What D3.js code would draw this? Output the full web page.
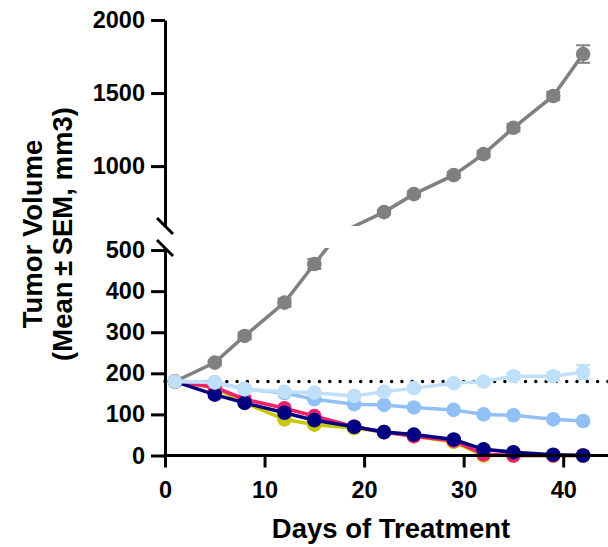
<!DOCTYPE html>
<html>
<head>
<meta charset="utf-8">
<script src="https://cdn.jsdelivr.net/npm/d3@7"></script>
<style>
    body { margin: 0; background: #fff; }
    text { font-family: 'Liberation Sans', Arial, sans-serif; font-weight: bold; fill: #000; }
</style>
</head>
<body>
<div id="chart"></div>
<script>
const days = [1, 5, 8, 12, 15, 19, 22, 25, 29, 32, 35, 39, 42];

const vehicle = [180, 226, 291, 372, 466, 588, 685, 808, 938, 1082, 1262, 1480, 1767];
const vehicleSem = [0, 6, 8, 10, 12, 15, 15, 18, 20, 22, 25, 28, 60];
const yellowGroup = [180, 165, 128, 88, 75, 67, 57, 47, 33, 0, 0, 0, 0];
const pinkGroup = [180, 166, 137, 115, 96, 70, 57, 47, 36, 3, 0, 0, 0];
const navyGroup = [180, 148, 128, 104, 86, 70, 57, 51, 39, 15, 8, 2, 0];
const midBlueGroup = [180, 178, 162, 152, 137, 125, 123, 117, 111, 100, 98, 88, 84];
const lightBlueGroup = [180, 178, 161, 155, 153, 145, 155, 164, 176, 180, 193, 193, 203];
const lightBlueSem = [0, 3, 4, 4, 5, 5, 6, 6, 7, 8, 9, 10, 17];

const baseline = 180;
const xTicks = [0, 10, 20, 30, 40];
const yTicksLow = [0, 100, 200, 300, 400, 500];
const yTicksHigh = [1000, 1500, 2000];

const series = [
    { name: 'vehicle', values: vehicle, sem: vehicleSem, color: '#808080' },
    { name: 'yellow', values: yellowGroup, color: '#c8c800' },
    { name: 'pink', values: pinkGroup, color: '#f0206e' },
    { name: 'navy', values: navyGroup, color: '#000080' },
    { name: 'midblue', values: midBlueGroup, color: '#90c0f5' },
    { name: 'lightblue', values: lightBlueGroup, sem: lightBlueSem, color: '#c0e0fa' }
];

const width = 608;
const height = 547;

const svg = d3.select('#chart')
    .append('svg')
    .attr('width', width)
    .attr('height', height);

const x = d3.scaleLinear().domain([0, 44.5]).range([165, 608]);
const yLow = d3.scaleLinear().domain([0, 505]).range([455.5, 248]);
const yHigh = d3.scaleLinear().domain([590, 2000]).range([226, 20]);

const defs = svg.append('defs');
defs.append('clipPath').attr('id', 'clip-low')
    .append('rect').attr('x', 0).attr('y', yLow(505)).attr('width', width).attr('height', height);
defs.append('clipPath').attr('id', 'clip-high')
    .append('rect').attr('x', 0).attr('y', 0).attr('width', width).attr('height', yHigh(590));

// dotted reference line at starting volume
svg.append('line')
    .attr('x1', x(0))
    .attr('x2', width)
    .attr('y1', yLow(baseline))
    .attr('y2', yLow(baseline))
    .attr('stroke', '#000')
    .attr('stroke-width', 3.5)
    .attr('stroke-linecap', 'round')
    .attr('stroke-dasharray', '0 10.3');

// draws every series on one segment of the broken axis
function drawPanel(y, clipId) {
    const [lo, hi] = y.domain();
    const g = svg.append('g').attr('clip-path', 'url(#' + clipId + ')');
    const line = d3.line()
        .x((d, i) => x(days[i]))
        .y(d => y(d));

    series.forEach(s => {
        const sg = g.append('g').classed(s.name, true);
        const pts = s.values
            .map((v, i) => ({ day: days[i], v: v, e: s.sem ? s.sem[i] : 0 }))
            .filter(d => d.v >= lo && d.v <= hi);

        if (s.sem) {
            const bars = sg.selectAll('.err')
                .data(pts)
                .enter()
                .append('g')
                .classed('err', true);
            bars.append('line')
                .attr('x1', d => x(d.day)).attr('x2', d => x(d.day))
                .attr('y1', d => y(d.v - d.e)).attr('y2', d => y(d.v + d.e))
                .attr('stroke', s.color).attr('stroke-width', 2);
            [-1, 1].forEach(sign => {
                bars.append('line')
                    .attr('x1', d => x(d.day) - 7).attr('x2', d => x(d.day) + 7)
                    .attr('y1', d => y(d.v + sign * d.e)).attr('y2', d => y(d.v + sign * d.e))
                    .attr('stroke', s.color).attr('stroke-width', 2);
            });
        }

        sg.append('path')
            .datum(s.values)
            .attr('d', line)
            .attr('fill', 'none')
            .attr('stroke', s.color)
            .attr('stroke-width', 3.5);

        sg.selectAll('circle')
            .data(pts)
            .enter()
            .append('circle')
            .attr('cx', d => x(d.day))
            .attr('cy', d => y(d.v))
            .attr('r', 7.3)
            .attr('fill', s.color);
    });
}

drawPanel(yLow, 'clip-low');
drawPanel(yHigh, 'clip-high');

// axes
const fmt = d3.format('d');

const xAxis = svg.append('g')
    .attr('transform', 'translate(0,' + yLow(0) + ')')
    .call(d3.axisBottom(x).tickValues(xTicks).tickFormat(fmt).tickSize(12).tickPadding(14).tickSizeOuter(0));

const yAxisLow = svg.append('g')
    .attr('transform', 'translate(' + x(0) + ',0)')
    .call(d3.axisLeft(yLow).tickValues(yTicksLow).tickFormat(fmt).tickSize(14).tickPadding(6).tickSizeOuter(0));

const yAxisHigh = svg.append('g')
    .attr('transform', 'translate(' + x(0) + ',0)')
    .call(d3.axisLeft(yHigh).tickValues(yTicksHigh).tickFormat(fmt).tickSize(14).tickPadding(6).tickSizeOuter(0));

[xAxis, yAxisLow, yAxisHigh].forEach(ax => {
    ax.select('.domain').attr('stroke', '#000').attr('stroke-width', 3);
    ax.selectAll('.tick line').attr('stroke', '#000').attr('stroke-width', 3);
    ax.selectAll('.tick text')
        .style('font-size', '23.5px')
        .style('font-family', "'Liberation Sans', Arial, sans-serif")
        .style('font-weight', 'bold')
        .attr('fill', '#000');
});
xAxis.select('.domain').attr('d', 'M' + x(0) + ',0H' + width);

// axis break slashes
[yHigh(590), yLow(505)].forEach(yb => {
    svg.append('line')
        .attr('x1', x(0) - 8).attr('x2', x(0) + 8)
        .attr('y1', yb - 8).attr('y2', yb + 8)
        .attr('stroke', '#000')
        .attr('stroke-width', 3);
});

// titles
svg.append('text')
    .attr('x', 391)
    .attr('y', 538)
    .attr('text-anchor', 'middle')
    .style('font-size', '27.5px')
    .text('Days of Treatment');

const yTitle = svg.append('text')
    .attr('transform', 'translate(0,234) rotate(-90)')
    .attr('text-anchor', 'middle')
    .style('font-size', '27.5px');
yTitle.append('tspan').attr('x', 0).attr('y', 42).text('Tumor Volume');
yTitle.append('tspan').attr('x', 0).attr('y', 72).text('(Mean\u2009±\u2009SEM, mm3)');
</script>
</body>
</html>
